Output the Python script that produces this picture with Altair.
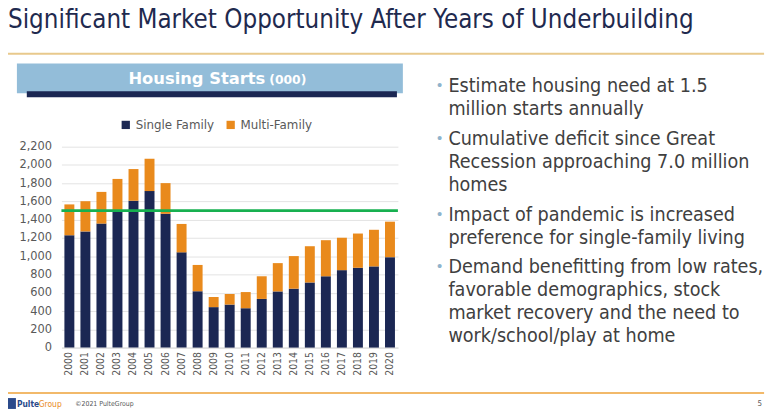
import altair as alt
import pandas as pd

years = [str(y) for y in range(2000, 2021)]
single_family = [1230, 1272, 1358, 1500, 1608, 1714, 1465, 1043, 617, 443, 471, 431, 533, 615, 645, 713, 781, 848, 874, 889, 990]
total_starts = [1568, 1603, 1705, 1847, 1955, 2068, 1801, 1354, 905, 554, 587, 608, 781, 925, 1002, 1110, 1176, 1203, 1249, 1290, 1379]
multi_family = [t - s for t, s in zip(total_starts, single_family)]
series = ["Single Family", "Multi-Family"]
colors = ["#1B2753", "#E98A1C"]
need_level = 1500
y_ticks = list(range(0, 2201, 200))

bullets = [
    ["Estimate housing need at 1.5", "million starts annually"],
    ["Cumulative deficit since Great", "Recession approaching 7.0 million", "homes"],
    ["Impact of pandemic is increased", "preference for single-family living"],
    ["Demand benefitting from low rates,", "favorable demographics, stock", "market recovery and the need to", "work/school/play at home"],
]
slide_title = "Significant Market Opportunity After Years of Underbuilding"
panel_title = "Housing Starts"
panel_unit = "(000)"

rows = []
for i, y in enumerate(years):
    rows.append({"year": y, "series": series[0], "value": single_family[i], "ord": 0})
    rows.append({"year": y, "series": series[1], "value": multi_family[i], "ord": 1})
df = pd.DataFrame(rows)

W, H = 340, 203
OX, OY = 54, 138  # plot origin in chart coords

yscale = alt.Scale(domain=[0, 2200], nice=False)
yaxis = alt.Axis(values=y_ticks, format=",.0f", labelFontSize=11.5, labelColor="#595959",
                 labelFont="DejaVu Sans", ticks=False, domain=False, labelOverlap=False,
                 gridColor="#E3E3E3", labelPadding=10)

bars = alt.Chart(df).mark_bar().encode(
    x=alt.X("year:N", sort=years, title=None,
            scale=alt.Scale(paddingInner=0.38, paddingOuter=0.185),
            axis=alt.Axis(labelAngle=270, labelFontSize=10.5, labelColor="#595959",
                          labelFont="DejaVu Sans Condensed, DejaVu Sans", ticks=False, domain=True,
                          domainColor="#D9D9D9", labelPadding=4, labelOverlap=False)),
    y=alt.Y("value:Q", stack="zero", title=None, scale=yscale, axis=yaxis),
    color=alt.Color("series:N", scale=alt.Scale(domain=series, range=colors),
                    legend=alt.Legend(orient="none", legendX=59, legendY=-28, direction="horizontal",
                                      title=None, symbolType="square", symbolSize=70,
                                      labelFontSize=12, labelColor="#595959",
                                      labelFont="DejaVu Sans", columnPadding=10,
                                      symbolStrokeWidth=0)),
    order=alt.Order("ord:Q"),
)

need = alt.Chart(pd.DataFrame({"v": [need_level]})).mark_rule(color="#17B050", strokeWidth=3).encode(
    y=alt.Y("v:Q", title=None, scale=yscale, axis=yaxis)
)

def rect(x1, x2, y1, y2, color):
    return alt.Chart(pd.DataFrame({"a": [0]})).mark_rect(color=color, clip=False).encode(
        x=alt.value(x1), x2=alt.value(x2), y=alt.value(y1), y2=alt.value(y2))

def txt(text, x, y, size, color, font, weight="normal", align="left", baseline="middle"):
    return alt.Chart(pd.DataFrame({"t": [text]})).mark_text(
        align=align, baseline=baseline, fontSize=size, color=color, font=font,
        fontWeight=weight, clip=False).encode(
        text="t:N", x=alt.value(x), y=alt.value(y))

FOOT = "DejaVu Sans Condensed, DejaVu Sans"
layers = [
    rect(-45, 345, -84, -54, "#93BDD9"),
    rect(-35, 339, -56, -50, "#1B2753"),
    txt(panel_title, 206, -68, 16.5, "white", "DejaVu Sans", "bold", align="right"),
    txt(panel_unit, 210, -67, 12.5, "white", "DejaVu Sans", "bold", align="left"),
    bars,
    need,
    # title + rules
    txt(slide_title, -54, -120, 26, "#1F2A4F", "DejaVu Sans Condensed, DejaVu Sans", baseline="alphabetic"),
    rect(-57, 710, -95, -93, "#E8C98C"),
    rect(-57, 710, 248, 250, "#F2B96A"),
    txt("Pulte", -45, 260, 8.5, "#2B4A8B", FOOT, "bold"),
    txt("Group", -23, 260, 8.5, "#E98A1C", FOOT),
    txt("\u00a92021 PulteGroup", 14, 260, 7, "#595959", FOOT),
    txt("5", 708, 260, 8, "#595959", FOOT, align="right"),
    rect(-54, -46, 254, 265, "#2B4A8B"),
]

# bullets
ytop = -61
line_h = 23.3
gap = 6.6
y = ytop
for para in bullets:
    layers.append(txt("\u2022", 378, y, 14, "#8FB3CC", "DejaVu Sans"))
    for ln in para:
        layers.append(txt(ln, 391, y, 19.8, "#404040", "DejaVu Sans Condensed, DejaVu Sans"))
        y += line_h
    y += gap

chart = alt.layer(*layers).properties(
    width=W, height=H,
    autosize=alt.AutoSizeParams(type="none"),
    padding={"left": OX, "top": OY, "right": 772 - OX - W, "bottom": 409 - OY - H},
    background="white",
).configure_view(stroke=None)

chart.save("out.html", embed_options={"renderer": "svg", "actions": False})
